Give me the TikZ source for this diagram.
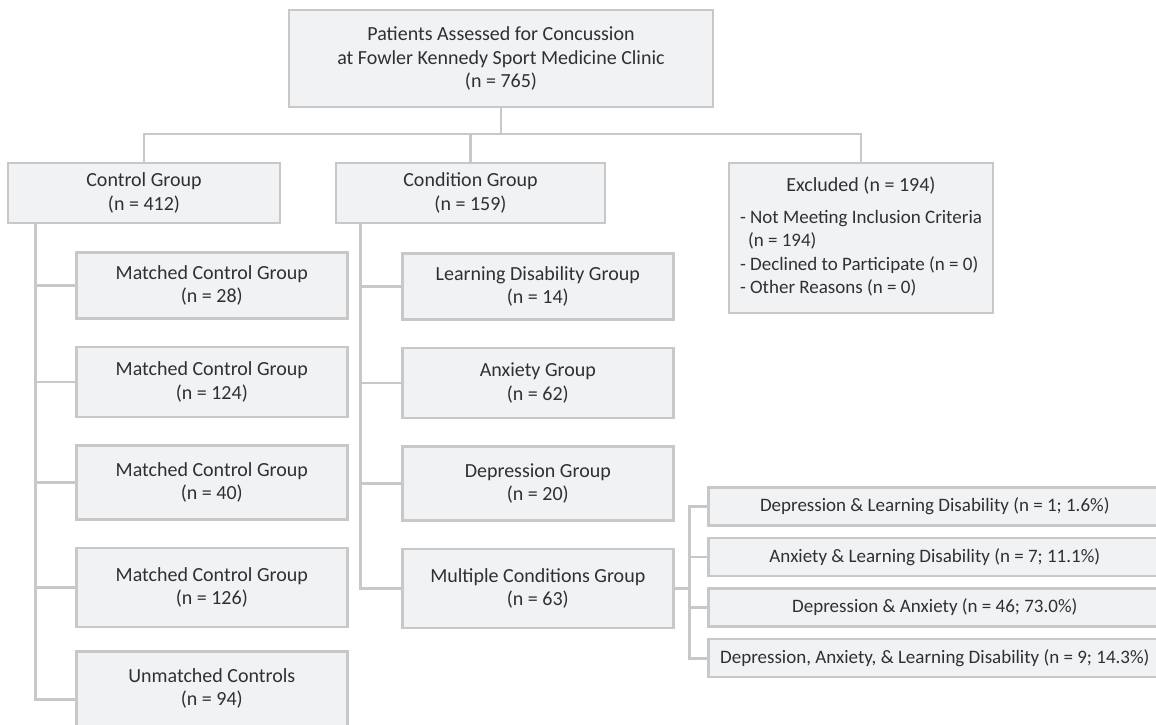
\documentclass[tikz,border=0pt]{standalone}
\usepackage{fontspec}
\setmainfont{Carlito}
\usepackage{tikz}
\usetikzlibrary{positioning}
\definecolor{boxfill}{RGB}{241,242,244}
\definecolor{boxline}{RGB}{200,200,200}
\definecolor{inkC}{RGB}{48,48,48}
\tikzset{
  box/.style={rectangle, draw=boxline, line width=2.6pt, fill=boxfill, text=inkC,
              align=center, font=\fontsize{20}{23.5}\selectfont, inner sep=2pt},
  kid/.style={box, minimum width=271pt, minimum height=#1},
  sub/.style={box, minimum width=453pt, minimum height=38pt,
              font=\fontsize{19}{22}\selectfont},
  link/.style={draw=boxline, line width=2.8pt},
}

\begin{document}
\begin{tikzpicture}[x=1pt, y=-1pt, node distance=26pt]
  \useasboundingbox (0,0) rectangle (1156,724);
  % top
  \node[box, minimum width=424pt, minimum height=97pt] (main) at (501,58.5)
    {Patients Assessed for Concussion\\at Fowler Kennedy Sport Medicine Clinic\\(n = 765)};
  \node[box, minimum width=272pt, minimum height=60pt] (ctrl) at (144,193)
    {Control Group\\(n = 412)};
  \node[box, minimum width=269pt, minimum height=60pt] (cond) at (470.5,193)
    {Condition Group\\(n = 159)};
  \node[box, minimum width=264pt, minimum height=150pt] (excl) at (861,238)
    {\begin{tabular}{@{}l@{}}
      \multicolumn{1}{@{}c@{}}{Excluded (n = 194)}\\[8pt]
      \fontsize{19}{22}\selectfont - Not Meeting Inclusion Criteria\\
      \fontsize{19}{22}\selectfont \hspace*{8pt}(n = 194)\\
      \fontsize{19}{22}\selectfont - Declined to Participate (n = 0)\\
      \fontsize{19}{22}\selectfont - Other Reasons (n = 0)
    \end{tabular}};
  % control column
  \node[kid=66pt, anchor=north west] (m1) at (75,251) {Matched Control Group\\(n = 28)};
  \node[kid=70pt, below=of m1] (m2) {Matched Control Group\\(n = 124)};
  \node[kid=74pt, below=of m2] (m3) {Matched Control Group\\(n = 40)};
  \node[kid=79pt, below=of m3] (m4) {Matched Control Group\\(n = 126)};
  \node[kid=95pt, below=22pt of m4, text depth=24pt] (unm) {Unmatched Controls\\(n = 94)};
  % condition column
  \node[kid=66pt, anchor=north west] (ld) at (401,252) {Learning Disability Group\\(n = 14)};
  \node[kid=70pt, below=of ld] (anx) {Anxiety Group\\(n = 62)};
  \node[kid=74pt, below=of anx] (dep) {Depression Group\\(n = 20)};
  \node[kid=79pt, below=of dep] (multi) {Multiple Conditions Group\\(n = 63)};
  % combinations
  \node[sub, anchor=north west] (s1) at (707,486) {Depression \& Learning Disability (n = 1; 1.6\%)};
  \node[sub, below=10pt of s1] (s2) {Anxiety \& Learning Disability (n = 7; 11.1\%)};
  \node[sub, below=10pt of s2] (s3) {Depression \& Anxiety (n = 46; 73.0\%)};
  \node[sub, below=10pt of s3] (s4) {Depression, Anxiety, \& Learning Disability (n = 9; 14.3\%)};

  % connectors
  \coordinate (split) at (501,134);
  \draw[link] (main.south) -- (split);
  \draw[link] (ctrl.north) |- (split) -| (excl.north);
  \draw[link] (cond.north) -- (cond.north |- split);

  \coordinate (ctrltop) at ([xshift=29pt]ctrl.south west);
  \draw[link] (ctrltop) |- (unm.west);
  \foreach \k in {m1,m2,m3,m4}
    \draw[link] (ctrltop |- \k.west) -- (\k.west);

  \coordinate (condtop) at ([xshift=26pt]cond.south west);
  \draw[link] (condtop) |- (multi.west);
  \foreach \k in {ld,anx,dep}
    \draw[link] (condtop |- \k.west) -- (\k.west);

  \draw[link] (multi.east) -- ++(15,0) coordinate (subsplit);
  \draw[link] (s1.west) -| (subsplit) |- (s4.west);
  \foreach \k in {s2,s3}
    \draw[link] (subsplit |- \k.west) -- (\k.west);
\end{tikzpicture}
\end{document}
